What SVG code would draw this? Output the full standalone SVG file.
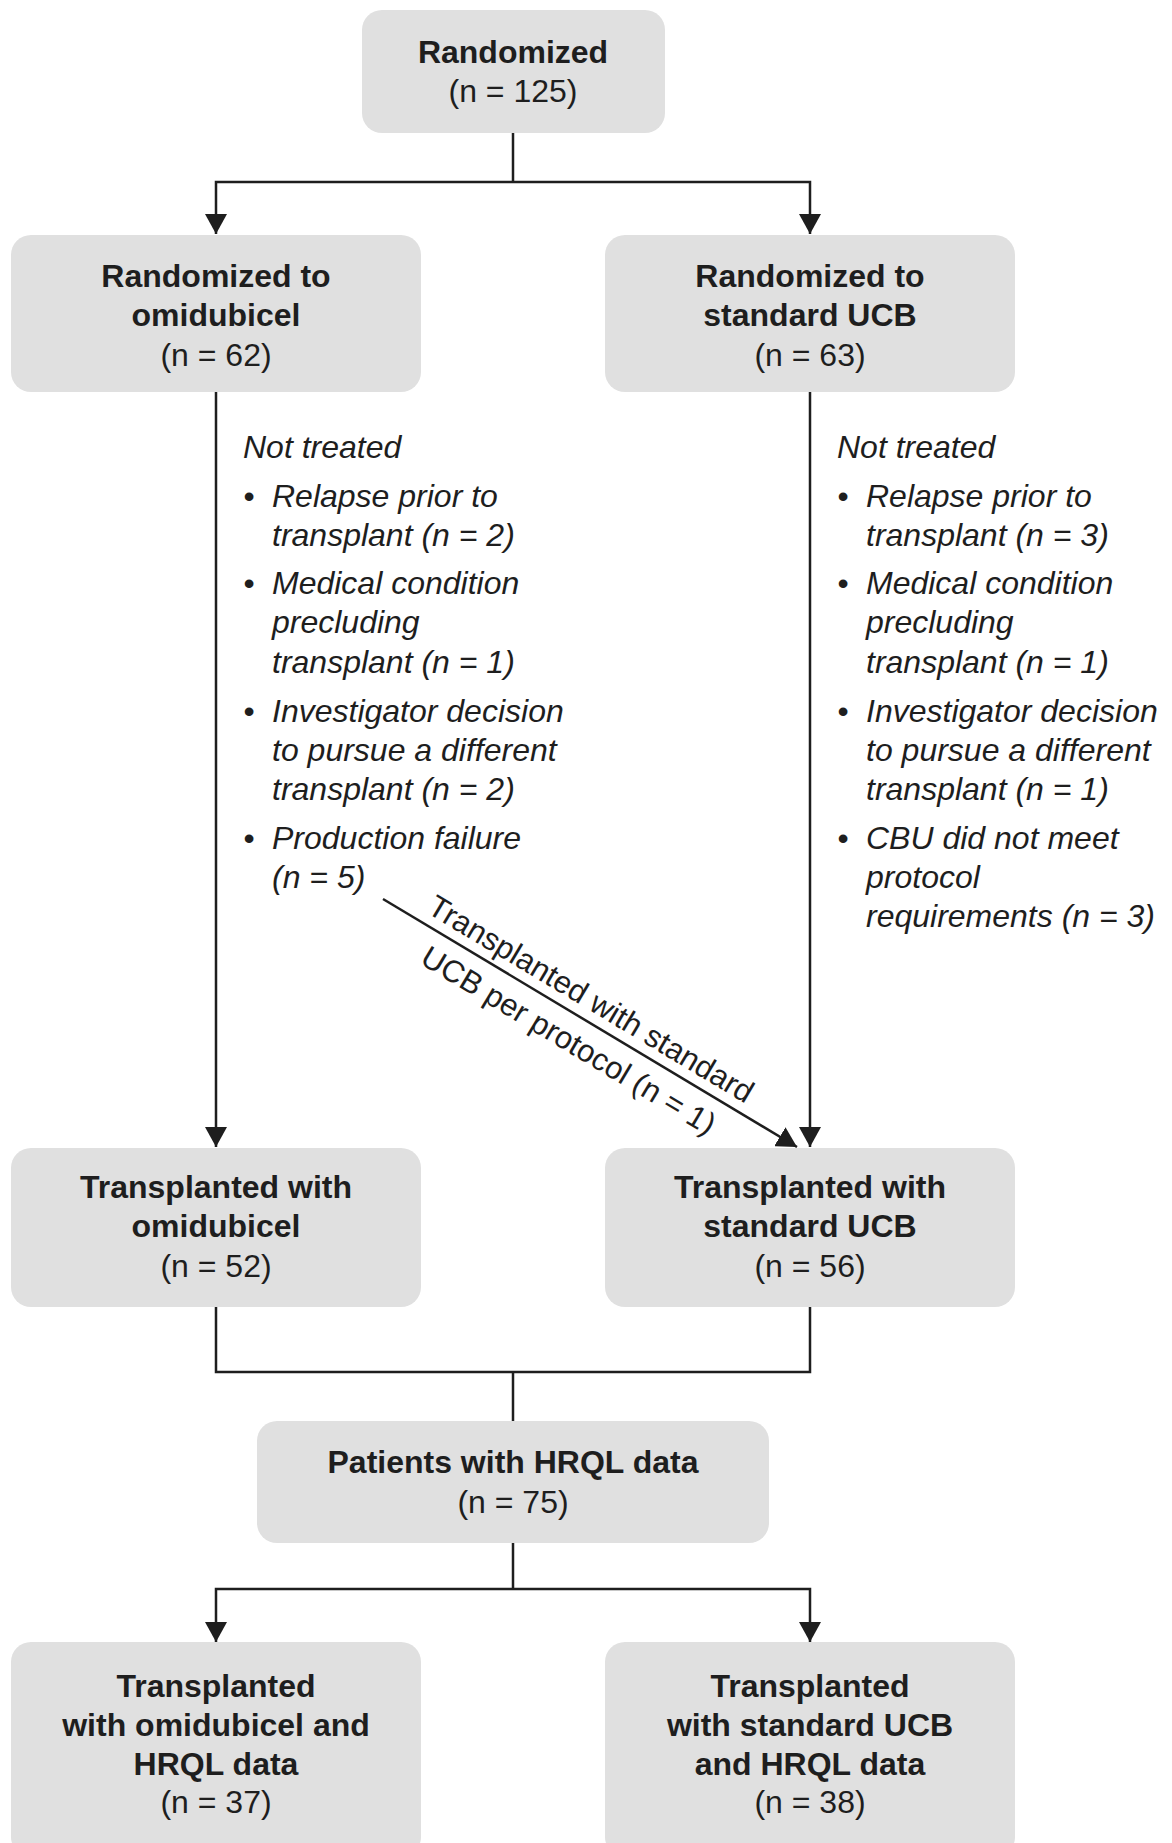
<svg xmlns="http://www.w3.org/2000/svg" width="1172" height="1843" viewBox="0 0 1172 1843">
<style>
.box{fill:#e0e0e0;}
.t{font-family:"Liberation Sans",Arial,sans-serif;font-size:32px;fill:#1e1e1e;text-anchor:middle;}
.b{font-weight:bold;}
.i{font-family:"Liberation Sans",Arial,sans-serif;font-size:32px;fill:#1e1e1e;font-style:italic;}
.d{font-family:"Liberation Sans",Arial,sans-serif;font-size:31px;fill:#1e1e1e;text-anchor:middle;}
.c{fill:none;stroke:#1e1e1e;stroke-width:2.5;}
</style>
<defs>
<marker id="ah" viewBox="0 0 20 22" refX="20" refY="11" markerWidth="20" markerHeight="22" markerUnits="userSpaceOnUse" orient="auto">
<path d="M0,0 L20,11 L0,22 z" fill="#1e1e1e"/>
</marker>
</defs>
<rect width="1172" height="1843" fill="#ffffff"/>
<g id="connectors">
<path class="c" d="M513,133 V182"/>
<path class="c" d="M513,182 H216 V234" marker-end="url(#ah)"/>
<path class="c" d="M513,182 H810 V234" marker-end="url(#ah)"/>
<path class="c" d="M216,392 V1147" marker-end="url(#ah)"/>
<path class="c" d="M810,392 V1147" marker-end="url(#ah)"/>
<path class="c" d="M383,899 L797,1147" marker-end="url(#ah)"/>
<path class="c" d="M216,1307 V1372 H810 V1307"/>
<path class="c" d="M513,1372 V1421"/>
<path class="c" d="M513,1543 V1589"/>
<path class="c" d="M513,1589 H216 V1642" marker-end="url(#ah)"/>
<path class="c" d="M513,1589 H810 V1642" marker-end="url(#ah)"/>
<g id="diag-label" transform="translate(580,1017.5) rotate(30.9)">
<text class="d" x="0" y="-11">Transplanted with standard</text>
<text class="d" x="2" y="36">UCB per protocol (n = 1)</text>
</g>
</g>
<g id="randomized">
<rect class="box" x="362" y="10" width="303" height="123" rx="20"/>
<text class="t b" x="513" y="63">Randomized</text>
<text class="t" x="513" y="102">(n = 125)</text>
</g>
<g id="rand-omidubicel">
<rect class="box" x="11" y="235" width="410" height="157" rx="20"/>
<text class="t b" x="216" y="287">Randomized to</text>
<text class="t b" x="216" y="326">omidubicel</text>
<text class="t" x="216" y="366">(n = 62)</text>
</g>
<g id="rand-ucb">
<rect class="box" x="605" y="235" width="410" height="157" rx="20"/>
<text class="t b" x="810" y="287">Randomized to</text>
<text class="t b" x="810" y="326">standard UCB</text>
<text class="t" x="810" y="366">(n = 63)</text>
</g>
<g id="not-treated-left">
<text class="i" x="243" y="458">Not treated</text>
<text class="t" x="249" y="507">•</text>
<text class="i" x="272" y="507">Relapse prior to</text>
<text class="i" x="272" y="546">transplant (n = 2)</text>
<text class="t" x="249" y="594">•</text>
<text class="i" x="272" y="594">Medical condition</text>
<text class="i" x="272" y="633">precluding</text>
<text class="i" x="272" y="673">transplant (n = 1)</text>
<text class="t" x="249" y="722">•</text>
<text class="i" x="272" y="722">Investigator decision</text>
<text class="i" x="272" y="761">to pursue a different</text>
<text class="i" x="272" y="800">transplant (n = 2)</text>
<text class="t" x="249" y="849">•</text>
<text class="i" x="272" y="849">Production failure</text>
<text class="i" x="272" y="888">(n = 5)</text>
</g>
<g id="not-treated-right">
<text class="i" x="837" y="458">Not treated</text>
<text class="t" x="843" y="507">•</text>
<text class="i" x="866" y="507">Relapse prior to</text>
<text class="i" x="866" y="546">transplant (n = 3)</text>
<text class="t" x="843" y="594">•</text>
<text class="i" x="866" y="594">Medical condition</text>
<text class="i" x="866" y="633">precluding</text>
<text class="i" x="866" y="673">transplant (n = 1)</text>
<text class="t" x="843" y="722">•</text>
<text class="i" x="866" y="722">Investigator decision</text>
<text class="i" x="866" y="761">to pursue a different</text>
<text class="i" x="866" y="800">transplant (n = 1)</text>
<text class="t" x="843" y="849">•</text>
<text class="i" x="866" y="849">CBU did not meet</text>
<text class="i" x="866" y="888">protocol</text>
<text class="i" x="866" y="927">requirements (n = 3)</text>
</g>
<g id="tx-omidubicel">
<rect class="box" x="11" y="1148" width="410" height="159" rx="20"/>
<text class="t b" x="216" y="1198">Transplanted with</text>
<text class="t b" x="216" y="1237">omidubicel</text>
<text class="t" x="216" y="1277">(n = 52)</text>
</g>
<g id="tx-ucb">
<rect class="box" x="605" y="1148" width="410" height="159" rx="20"/>
<text class="t b" x="810" y="1198">Transplanted with</text>
<text class="t b" x="810" y="1237">standard UCB</text>
<text class="t" x="810" y="1277">(n = 56)</text>
</g>
<g id="hrql">
<rect class="box" x="257" y="1421" width="512" height="122" rx="20"/>
<text class="t b" x="513" y="1473">Patients with HRQL data</text>
<text class="t" x="513" y="1513">(n = 75)</text>
</g>
<g id="hrql-omidubicel">
<rect class="box" x="11" y="1642" width="410" height="215" rx="20"/>
<text class="t b" x="216" y="1697">Transplanted</text>
<text class="t b" x="216" y="1736">with omidubicel and</text>
<text class="t b" x="216" y="1775">HRQL data</text>
<text class="t" x="216" y="1813">(n = 37)</text>
</g>
<g id="hrql-ucb">
<rect class="box" x="605" y="1642" width="410" height="215" rx="20"/>
<text class="t b" x="810" y="1697">Transplanted</text>
<text class="t b" x="810" y="1736">with standard UCB</text>
<text class="t b" x="810" y="1775">and HRQL data</text>
<text class="t" x="810" y="1813">(n = 38)</text>
</g>
</svg>
